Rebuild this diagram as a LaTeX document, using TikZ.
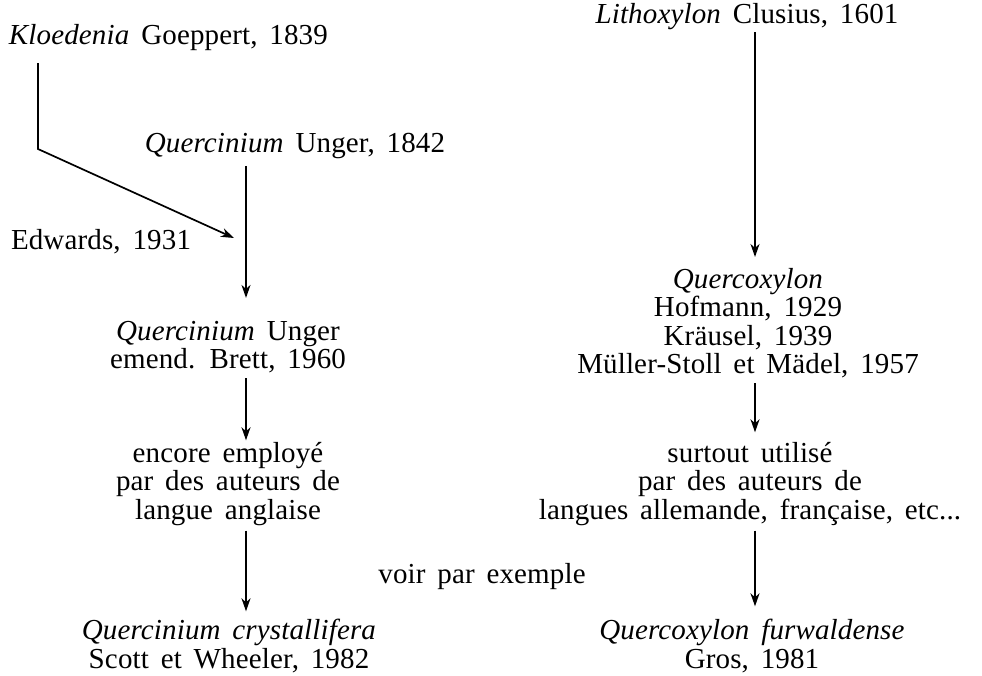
\documentclass[tikz,border=0pt]{standalone}
\usepackage{fontspec}
\setmainfont{Liberation Serif}[LetterSpace=0.5,WordSpace=1.6]
\usepackage{tikz}
\usetikzlibrary{shapes.geometric, arrows, arrows.meta}
\usetikzlibrary{positioning}
\tikzstyle{arrow} = [line width=1.7pt,->,>={Stealth[length=13pt,width=9pt,inset=4pt]}]

\begin{document}
\begin{tikzpicture}[
        x=1pt, y=-1pt,
        every node/.style={align=center, font=\fontsize{29}{28.5}\selectfont, inner sep=2pt, outer sep=0pt}
        ]
        \useasboundingbox (0,0) rectangle (982,675);
        \coordinate (lx) at (246,0);
        \coordinate (rx) at (755,0);
        \coordinate (bend) at (38,149);
        \coordinate (tip) at (234,238);

        \node (lith) at (747,17) {\textit{Lithoxylon} Clusius, 1601};
        \node[anchor=west] (klo) at (7,38) {\textit{Kloedenia} Goeppert, 1839};
        \node (qu42) at (295,146) {\textit{Quercinium} Unger, 1842};
        \node[anchor=west] (edw) at (9,242) {Edwards, 1931};
        \node (qu60) at (228,347) {\textit{Quercinium} Unger\\ emend. Brett, 1960};
        \node (enc) at (228,484) {encore employé\\ par des auteurs de\\ langue anglaise};
        \node (cry) at (229,646) {\textit{Quercinium crystallifera}\\ Scott et Wheeler, 1982};
        \node (voir) at (482,577) {voir par exemple};
        \node (quer) at (748,323) {\textit{Quercoxylon}\\ Hofmann, 1929\\ Kräusel, 1939\\ Müller-Stoll et Mädel, 1957};
        \node (surt) at (750,484) {surtout utilisé\\ par des auteurs de\\ langues allemande, française, etc...};
        \node (fur) at (752,646) {\textit{Quercoxylon furwaldense}\\ Gros, 1981};

        \draw[arrow, shorten <=10pt] (klo.south -| bend) -- (bend) -- (tip);
        \draw[arrow, shorten <=5pt, shorten >=21pt] (qu42.south -| lx) -- (qu60.north -| lx);
        \draw[arrow, shorten <=3pt] (qu60.south -| lx) -- (enc.north -| lx);
        \draw[arrow, shorten <=3pt, shorten >=6pt] (enc.south -| lx) -- (cry.north -| lx);
        \draw[arrow, shorten >=9pt] (lith.south -| rx) -- (quer.north -| rx);
        \draw[arrow, shorten <=3pt, shorten >=8pt] (quer.south -| rx) -- (surt.north -| rx);
        \draw[arrow, shorten <=3pt, shorten >=11pt] (surt.south -| rx) -- (fur.north -| rx);
\end{tikzpicture}
\end{document}
